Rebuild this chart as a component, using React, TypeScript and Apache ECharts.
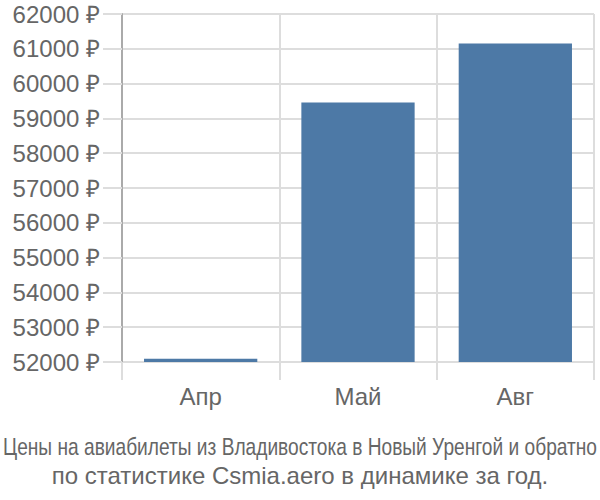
import React, { useEffect, useRef } from "react";
import * as echarts from "echarts";

const categories = ["Апр", "Май", "Авг"];
const prices = [52090, 59455, 61155];
const yMin = 52000;
const yMax = 62000;
const yStep = 1000;
const titleLine1 = "Цены на авиабилеты из Владивостока в Новый Уренгой и обратно";
const titleLine2 = "по статистике Csmia.aero в динамике за год.";

const FONT = "Liberation Sans, Arial, sans-serif";

function measure(text: string, size: number): number {
  const c = document.createElement("canvas").getContext("2d");
  if (!c) return text.length * size * 0.5;
  c.font = `${size}px "Liberation Sans", Arial, sans-serif`;
  return c.measureText(text).width;
}

export default function App() {
  const ref = useRef<HTMLDivElement>(null);
  useEffect(() => {
    if (!ref.current) return;
    const chart = echarts.init(ref.current, null, { renderer: "svg" });
    const w1 = measure(titleLine1, 24);
    const s1 = Math.min(1, 594 / w1);
    chart.setOption({
      animation: false,
      backgroundColor: "#ffffff",
      graphic: [
        {
          type: "text",
          x: 300,
          y: 447,
          scaleX: s1,
          style: {
            text: titleLine1,
            font: `24px ${FONT}`,
            fill: "#666666",
            align: "center",
            verticalAlign: "middle",
          },
        },
        {
          type: "text",
          x: 300,
          y: 475,
          style: {
            text: titleLine2,
            font: `24px ${FONT}`,
            fill: "#666666",
            align: "center",
            verticalAlign: "middle",
          },
        },
      ],
      grid: { left: 122, right: 6, top: 14, bottom: 138, containLabel: false },
      xAxis: {
        type: "category",
        data: categories,
        boundaryGap: true,
        axisLine: { show: false },
        axisTick: { show: true, length: 18, lineStyle: { color: "#dddddd", width: 2 } },
        splitLine: { show: true, lineStyle: { color: "#dddddd", width: 2 } },
        axisLabel: {
          margin: 22,
          fontSize: 24,
          color: "#666666",
          fontFamily: FONT,
        },
      },
      yAxis: {
        type: "value",
        min: yMin,
        max: yMax,
        interval: yStep,
        axisLine: { show: true, lineStyle: { color: "#aaaaaa", width: 2 } },
        axisTick: { show: true, length: 19, lineStyle: { color: "#dddddd", width: 2 } },
        splitLine: { show: true, lineStyle: { color: "#dddddd", width: 2 } },
        axisLabel: {
          margin: 22,
          fontSize: 24,
          color: "#666666",
          fontFamily: FONT,
          formatter: (v: number) => `${v} ₽`,
        },
      },
      series: [
        {
          type: "bar",
          data: prices,
          barCategoryGap: "28%",
          itemStyle: { color: "#4d79a6" },
        },
      ],
    });
    return () => chart.dispose();
  }, []);
  return <div ref={ref} style={{ width: 600, height: 500, position: "absolute", left: 0, top: 0 }} />;
}
